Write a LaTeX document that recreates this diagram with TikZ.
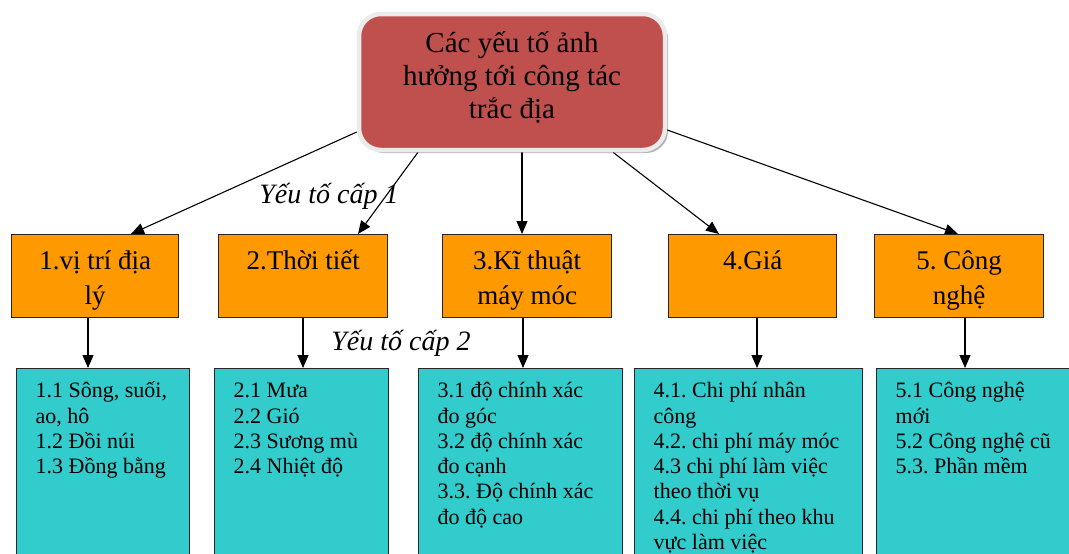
\documentclass[tikz,border=0pt]{standalone}
\usepackage{fontspec}
\setmainfont{Liberation Serif}
\usetikzlibrary{arrows.meta,calc,shadows}
\definecolor{redc}{HTML}{C0504D}
\definecolor{orangec}{HTML}{FF9900}
\definecolor{cyanc}{HTML}{33CCCC}
\pgfdeclarelayer{bg}
\pgfsetlayers{bg,main}
\frenchspacing
\newcommand{\obox}[2]{\parbox[c][83pt][t]{#1pt}{\centering\rule{0pt}{35pt}#2\par}}
\newcommand{\cbox}[2]{\parbox[c][200pt][t]{#1pt}{\raggedright\leftskip=19pt\rule{0pt}{29pt}#2\par}}
\tikzset{
  rootbox/.style={draw=black!8, line width=4.5pt, fill=redc, rounded corners=22pt, inner sep=0pt,
    font=\fontsize{29}{33}\selectfont,
    drop shadow={shadow xshift=3pt, shadow yshift=-3pt, opacity=0.3, fill=black}},
  obx/.style={draw=black!85, line width=1.4pt, fill=orangec, inner sep=0pt, anchor=north west,
    font=\fontsize{27}{35}\selectfont},
  cbx/.style={draw=black!85, line width=1.4pt, fill=cyanc, inner sep=0pt, anchor=north west,
    font=\fontsize{22}{25.3}\selectfont},
  lab/.style={font=\fontsize{28}{30}\selectfont\itshape, inner sep=0pt, anchor=base},
  arr/.style={draw=black, line width=1.1pt, -{Triangle[length=13pt,width=11pt]}}
}
\begin{document}
\begin{tikzpicture}[x=1pt,y=-1pt]
\useasboundingbox (0,0) rectangle (1069,554);
\clip (0,0) rectangle (1069,554);

\node[rootbox] (root) at (512,82) {\parbox[c][136pt][t]{306pt}{\centering\rule{0pt}{38pt}Các yếu tố ảnh\\hưởng tới công tác\\trắc địa\par}};

\node[obx] (o1) at (11,234) {\obox{167}{1.vị trí địa\\lý}};
\node[obx] (o2) at (218,234) {\obox{169}{2.Thời tiết}};
\node[obx] (o3) at (442,234) {\obox{169}{3.Kĩ thuật\\máy móc}};
\node[obx] (o4) at (668,234) {\obox{168}{4.Giá}};
\node[obx] (o5) at (874,234) {\obox{169}{5. Công\\nghệ}};

\node[cbx] (c1) at (16,368) {\cbox{173}{1.1 Sông, suối,\\ao, hô\\1.2 Đồi núi\\1.3 Đồng bằng}};
\node[cbx] (c2) at (214,368) {\cbox{174}{2.1 Mưa\\2.2 Gió\\2.3 Sương mù\\2.4 Nhiệt độ}};
\node[cbx] (c3) at (418,368) {\cbox{204}{3.1 độ chính xác\\đo góc\\3.2 độ chính xác\\đo cạnh\\3.3. Độ chính xác\\đo độ cao}};
\node[cbx] (c4) at (634,368) {\cbox{228}{4.1. Chi phí nhân\\công\\4.2. chi phí máy móc\\4.3 chi phí làm việc\\theo thời vụ\\4.4. chi phí theo khu\\vực làm việc}};
\node[cbx] (c5) at (876,368) {\cbox{200}{5.1 Công nghệ\\mới\\5.2 Công nghệ cũ\\5.3. Phần mềm}};

\node[lab] (lab1) at (329,203) {Yếu tố cấp 1};
\node[lab] (lab2) at (401,350) {Yếu tố cấp 2};

\begin{pgfonlayer}{bg}
\draw[arr] ($(root.west)+(0,50)$) -- ($(o1.north west)+(120,0)$);
\draw[arr] ($(root.south)+(-94,0)$) -- ($(o2.north west)+(140,0)$);
\draw[arr] ($(root.south)+(10,0)$) -- ($(o3.north west)+(80,0)$);
\draw[arr] ($(root.south)+(101,0)$) -- ($(o4.north west)+(51,0)$);
\draw[arr] ($(root.east)+(0,48)$) -- ($(o5.north west)+(84,0)$);

\draw[arr] ($(o1.south west)+(77,0)$) -- ($(c1.north west)+(72,0)$);
\draw[arr] ($(o2.south west)+(85,0)$) -- ($(c2.north west)+(89,0)$);
\draw[arr] ($(o3.south west)+(81,0)$) -- ($(c3.north west)+(105,0)$);
\draw[arr] ($(o4.south west)+(89,0)$) -- ($(c4.north west)+(123,0)$);
\draw[arr] ($(o5.south west)+(91,0)$) -- ($(c5.north west)+(89,0)$);
\end{pgfonlayer}
\end{tikzpicture}
\end{document}
